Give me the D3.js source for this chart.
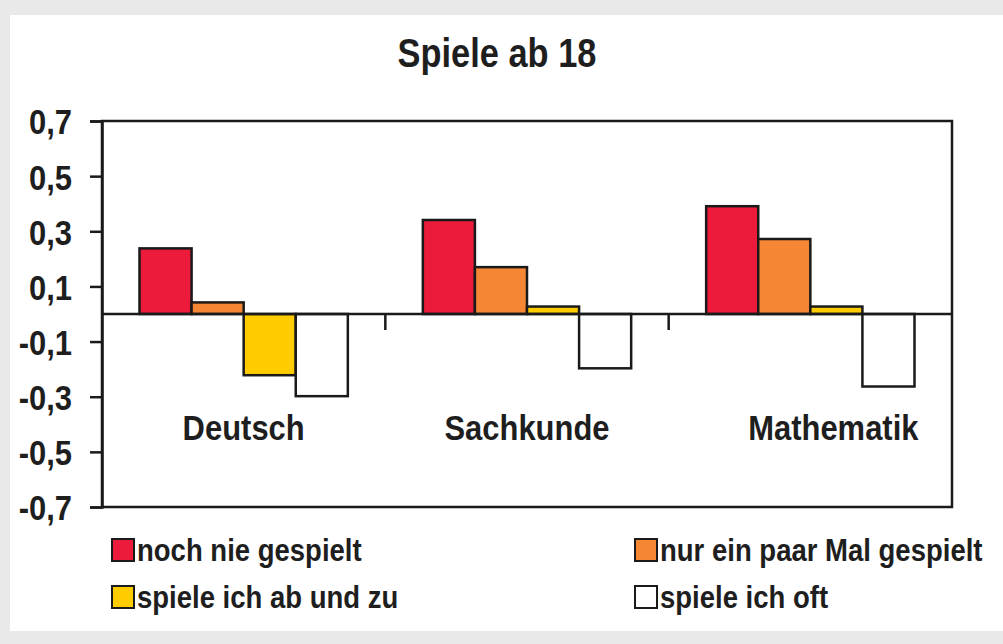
<!DOCTYPE html>
<html>
<head>
<meta charset="utf-8">
<script src="https://cdn.jsdelivr.net/npm/d3@7"></script>
<style>
  body { margin: 0; background: #fff; }
  svg text { font-family: "Liberation Sans Narrow", "Arial Narrow", "Liberation Sans", sans-serif; font-weight: bold; fill: #1e1e1e; }
</style>
</head>
<body>
<svg id="chart" width="1003" height="644"></svg>
<script>
// Daten
const categories = ["Deutsch", "Sachkunde", "Mathematik"];
const series = ["noch nie gespielt", "nur ein paar Mal gespielt", "spiele ich ab und zu", "spiele ich oft"];
const seriesColors = ["#ec1a3b", "#f58634", "#ffcc00", "#ffffff"];
const values = [
  [0.238, 0.042, -0.222, -0.298],  // Deutsch
  [0.341, 0.170, 0.027, -0.197],   // Sachkunde
  [0.391, 0.272, 0.027, -0.263]    // Mathematik
];
const yTicks = [0.7, 0.5, 0.3, 0.1, -0.1, -0.3, -0.5, -0.7];

const svg = d3.select("#chart");

// schmale Schrift nachbilden: Text horizontal um seinen Ankerpunkt stauchen
const squeeze = 0.86;
function condense(sel) {
  sel.each(function () {
    const t = d3.select(this);
    const x = +t.attr("x") || 0;
    t.attr("transform", `translate(${x},0) scale(${squeeze},1) translate(${-x},0)`);
  });
}

// Hintergrund mit grauem Rand
svg.append("rect").attr("width", 1003).attr("height", 644).attr("fill", "#e9e9e9");
svg.append("rect").attr("x", 10).attr("y", 15).attr("width", 993).attr("height", 616).attr("fill", "#fff");

const plot = { left: 102, right: 952, top: 121, bottom: 507 };

const y = d3.scaleLinear().domain([-0.7, 0.7]).range([plot.bottom, plot.top]);
const x0 = d3.scaleBand().domain(categories).range([plot.left, plot.right]);
const x1 = d3.scaleBand().domain(series).range([0, x0.bandwidth()]).paddingOuter(0.72);
const color = d3.scaleOrdinal().domain(series).range(seriesColors);

// Titel
svg.append("text")
  .attr("x", 497).attr("y", 67)
  .attr("text-anchor", "middle")
  .style("font-size", "40px")
  .text("Spiele ab 18")
  .call(condense);

// Rahmen der Zeichenfläche
svg.append("rect")
  .attr("x", plot.left).attr("y", plot.top)
  .attr("width", plot.right - plot.left).attr("height", plot.bottom - plot.top)
  .attr("fill", "#fff").attr("stroke", "#1a1a1a").attr("stroke-width", 2.5);

// Y-Achse
const fmt = v => d3.format(".1f")(v).replace(".", ",").replace("−", "-");
const yAxis = svg.append("g")
  .attr("transform", `translate(${plot.left},0)`)
  .call(d3.axisLeft(y).tickValues(yTicks).tickFormat(fmt).tickSize(12).tickPadding(18));
yAxis.select(".domain").attr("stroke", "#1a1a1a").attr("stroke-width", 2.5);
yAxis.selectAll(".tick line").attr("stroke", "#1a1a1a").attr("stroke-width", 2.5);
yAxis.selectAll(".tick text")
  .style("font-size", "36px")
  .attr("fill", "#1e1e1e")
  .attr("dy", "0.36em")
  .call(condense);

// Balken
const groups = svg.append("g")
  .selectAll("g")
  .data(categories)
  .join("g")
  .attr("transform", d => `translate(${x0(d)},0)`);

groups.selectAll("rect")
  .data((d, i) => series.map((s, j) => ({ s, v: values[i][j] })))
  .join("rect")
  .attr("x", d => x1(d.s))
  .attr("width", x1.bandwidth())
  .attr("y", d => y(Math.max(0, d.v)))
  .attr("height", d => Math.abs(y(d.v) - y(0)))
  .attr("fill", d => color(d.s))
  .attr("stroke", "#1a1a1a")
  .attr("stroke-width", 2.5);

// Nulllinie mit Kategorie-Strichen
svg.append("line")
  .attr("x1", plot.left).attr("x2", plot.right)
  .attr("y1", y(0)).attr("y2", y(0))
  .attr("stroke", "#1a1a1a").attr("stroke-width", 2.5);

svg.append("g")
  .selectAll("line")
  .data(categories.slice(1))
  .join("line")
  .attr("x1", d => x0(d)).attr("x2", d => x0(d))
  .attr("y1", y(0)).attr("y2", y(0) + 16)
  .attr("stroke", "#1a1a1a").attr("stroke-width", 2.5);

// Kategorienamen
const labelShift = [0, 0, 23];
svg.append("g")
  .selectAll("text")
  .data(categories)
  .join("text")
  .attr("x", (d, i) => x0(d) + x0.bandwidth() / 2 + labelShift[i])
  .attr("y", 440)
  .attr("text-anchor", "middle")
  .style("font-size", "36px")
  .text(d => d)
  .call(condense);

// Legende
const legendPos = [[112, 539], [635, 539], [112, 586], [635, 586]];
const legend = svg.append("g")
  .selectAll("g")
  .data(series)
  .join("g")
  .attr("transform", (d, i) => `translate(${legendPos[i][0]},${legendPos[i][1]})`);

legend.append("rect")
  .attr("width", 22).attr("height", 22)
  .attr("fill", d => color(d))
  .attr("stroke", "#1a1a1a").attr("stroke-width", 2);

legend.append("text")
  .attr("x", 25).attr("y", 22)
  .style("font-size", "32px")
  .text(d => d)
  .call(condense);
</script>
</body>
</html>
